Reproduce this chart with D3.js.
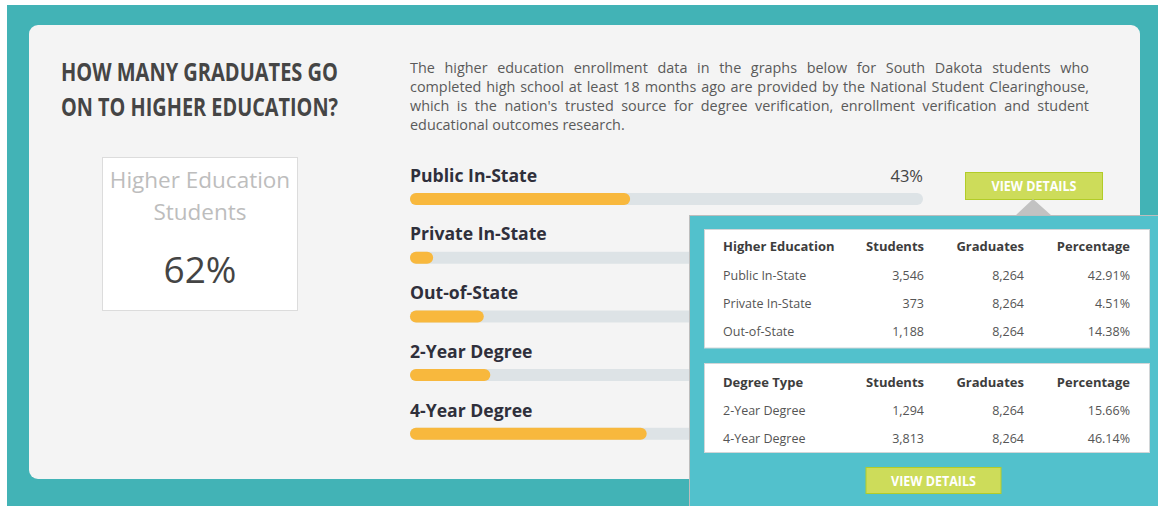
<!DOCTYPE html>
<html><head><meta charset="utf-8">
<script src="https://cdn.jsdelivr.net/npm/d3@7"></script>
<style>
html,body{margin:0;padding:0;background:#fff;}
svg{display:block;font-family:'Open Sans',sans-serif;}
</style></head>
<body>
<svg id="chart" width="1158" height="506"></svg>
<script>
// ---- data ----
const titleLines = ["HOW MANY GRADUATES GO", "ON TO HIGHER EDUCATION?"];
const summaryLabel = ["Higher Education", "Students"];
const summaryPercent = 62;
const introLines = [
  "The higher education enrollment data in the graphs below for South Dakota students who",
  "completed high school at least 18 months ago are provided by the National Student Clearinghouse,",
  "which is the nation's trusted source for degree verification, enrollment verification and student",
  "educational outcomes research."
];
const categories = ["Public In-State", "Private In-State", "Out-of-State", "2-Year Degree", "4-Year Degree"];
const groups = ["Higher Education", "Higher Education", "Higher Education", "Degree Type", "Degree Type"];
const students = [3546, 373, 1188, 1294, 3813];
const graduates = [8264, 8264, 8264, 8264, 8264];
const percentages = [42.91, 4.51, 14.38, 15.66, 46.14];
const tableColumns = ["Students", "Graduates", "Percentage"];
const buttonLabel = "VIEW DETAILS";

// ---- drawing ----
const svg = d3.select("#chart");
const FONT = "'Open Sans', sans-serif";

function measure(str, size, weight) {
  const t = svg.append("text").attr("font-size", size).attr("font-weight", weight || 400)
    .attr("font-family", FONT).attr("xml:space", "preserve").text(str);
  const w = t.node().getComputedTextLength();
  t.remove();
  return w;
}

// background
svg.append("rect").attr("x", 7).attr("y", 5).attr("width", 1151).attr("height", 501).attr("fill", "#42b3b6");
svg.append("rect").attr("x", 29).attr("y", 25).attr("width", 1111).attr("height", 454).attr("rx", 9).attr("fill", "#f4f4f4");

// title
titleLines.forEach((l, i) => {
  svg.append("text").attr("x", 61).attr("y", 81 + i * 34.5)
    .attr("font-size", 24.5).attr("font-weight", 700).attr("fill", "#454545")
    .attr("textLength", 277).attr("lengthAdjust", "spacingAndGlyphs").text(l);
});

// summary box
svg.append("rect").attr("x", 102.5).attr("y", 157.5).attr("width", 195).attr("height", 153)
  .attr("fill", "#fff").attr("stroke", "#dcdcdc");
summaryLabel.forEach((l, i) => {
  svg.append("text").attr("x", 200).attr("y", 188 + i * 31.5).attr("text-anchor", "middle")
    .attr("font-size", 22.5).attr("fill", "#bdbdbd").text(l);
});
svg.append("text").attr("x", 200).attr("y", 283).attr("text-anchor", "middle")
  .attr("font-size", 37).attr("fill", "#444").text(summaryPercent + "%");

// intro paragraph (justified)
const pSize = 14.4, pX = 410, pW = 679;
const spaceW = measure("a a", pSize) - measure("aa", pSize);
introLines.forEach((line, i) => {
  const words = line.split(" ");
  let ws = words.map(w => measure(w, pSize));
  const sum = d3.sum(ws);
  const last = i === introLines.length - 1;
  const minGap = spaceW * 0.75;
  let k = 1;
  if (sum + minGap * (words.length - 1) > pW) k = (pW - minGap * (words.length - 1)) / sum;
  ws = ws.map(w => w * k);
  const gap = last ? spaceW : (pW - d3.sum(ws)) / (words.length - 1);
  let x = pX;
  const y = 72.5 + i * 19.3;
  words.forEach((w, j) => {
    const t = svg.append("text").attr("x", x).attr("y", y).attr("font-size", pSize).attr("fill", "#5a5a5a").text(w);
    if (k < 1) t.attr("textLength", ws[j]).attr("lengthAdjust", "spacingAndGlyphs");
    x += ws[j] + gap;
  });
});

// bars
const xScale = d3.scaleLinear().domain([0, 100]).range([0, 513]);
const yScale = d3.scaleBand().domain(categories).range([164, 164 + 58.7 * 5]);
const barX = 410, barH = 12, popupTop = 215.5;
const rows = svg.append("g").selectAll("g").data(categories).join("g")
  .attr("transform", d => `translate(0,${yScale(d)})`);
rows.append("text").attr("x", barX).attr("y", 17.7).attr("font-size", 17.6).attr("font-weight", 700)
  .attr("fill", "#2f2f3b").text(d => d);
rows.filter(d => yScale(d) + 17.7 < popupTop)
  .append("text").attr("x", barX + xScale(100)).attr("y", 17.7).attr("text-anchor", "end")
  .attr("font-size", 16.5).attr("fill", "#444").text(d => d3.format(".0f")(percentages[categories.indexOf(d)]) + "%");
rows.append("rect").attr("x", barX).attr("y", 29).attr("width", xScale(100)).attr("height", barH)
  .attr("rx", barH / 2).attr("fill", "#dde3e6");
rows.append("rect").attr("x", barX).attr("y", 29).attr("width", (d, i) => xScale(percentages[i])).attr("height", barH)
  .attr("rx", barH / 2).attr("fill", "#f8b83d");

function button(cx, y, w, h) {
  svg.append("rect").attr("x", cx - w / 2).attr("y", y).attr("width", w).attr("height", h)
    .attr("fill", "#cddc5a").attr("stroke", "#b2cc28");
  svg.append("text").attr("x", cx).attr("y", y + h / 2 + 5).attr("text-anchor", "middle")
    .attr("font-size", 14).attr("font-weight", 700).attr("fill", "#fff")
    .attr("textLength", 85).attr("lengthAdjust", "spacingAndGlyphs").text(buttonLabel);
}
button(1034, 172.5, 137, 27);
svg.append("path").attr("d", "M1015,216 L1033,199 L1052,216 Z").attr("fill", "#c2c2c2");

// popup
svg.append("rect").attr("x", 689.5).attr("y", popupTop).attr("width", 500).attr("height", 300)
  .attr("fill", "#52c1cc").attr("stroke", "#bdbdbd");

const fmt = d3.format(",");
const colEnds = [924, 1024, 1130];
const tableDefs = [
  { name: "Higher Education", top: 229.5, h: 118.5, head: 251, first: 279.5 },
  { name: "Degree Type", top: 363.5, h: 89, head: 386.5, first: 414.5 }
];
tableDefs.forEach(t => {
  svg.append("rect").attr("x", 704.5).attr("y", t.top).attr("width", 445).attr("height", t.h)
    .attr("fill", "#fff").attr("stroke", "#d2d6d8");
  const hdr = [t.name].concat(tableColumns);
  hdr.forEach((c, j) => {
    svg.append("text").attr("x", j === 0 ? 723 : colEnds[j - 1]).attr("y", t.head)
      .attr("text-anchor", j === 0 ? "start" : "end")
      .attr("font-size", 13).attr("font-weight", 700).attr("fill", "#3d3d3d").text(c);
  });
  const idx = categories.map((c, i) => i).filter(i => groups[i] === t.name);
  idx.forEach((i, r) => {
    const y = t.first + r * 28.4;
    const cells = [categories[i], fmt(students[i]), fmt(graduates[i]), percentages[i].toFixed(2) + "%"];
    cells.forEach((c, j) => {
      svg.append("text").attr("x", j === 0 ? 723 : colEnds[j - 1]).attr("y", y)
        .attr("text-anchor", j === 0 ? "start" : "end")
        .attr("font-size", 12.5).attr("fill", "#555").text(c);
    });
  });
});
button(933.5, 467.5, 135, 26);
</script>
</body></html>
